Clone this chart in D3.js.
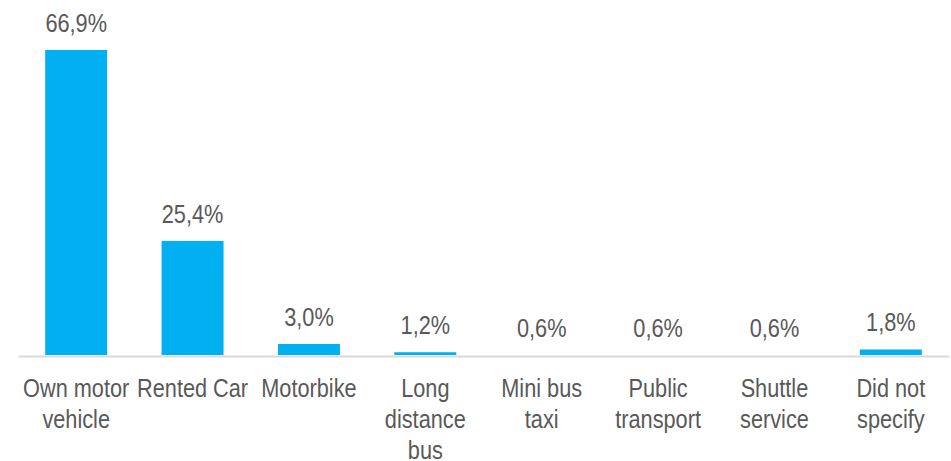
<!DOCTYPE html>
<html>
<head>
<meta charset="utf-8">
<script src="https://cdn.jsdelivr.net/npm/d3@7"></script>
<style>
  html, body { margin: 0; padding: 0; background: #ffffff; }
  svg { display: block; }
  text { font-family: "Liberation Sans Narrow", "Arial Narrow", "Liberation Sans", Arial, sans-serif; fill: #595959; }
</style>
</head>
<body>
<svg id="chart" width="951" height="461"></svg>
<script>
// Mode of transport used by respondents (share of responses, %)
const categories = [
  ["Own motor", "vehicle"],
  ["Rented Car"],
  ["Motorbike"],
  ["Long", "distance", "bus"],
  ["Mini bus", "taxi"],
  ["Public", "transport"],
  ["Shuttle", "service"],
  ["Did not", "specify"]
];
const shares = [66.9, 25.4, 3.0, 1.2, 0.6, 0.6, 0.6, 1.8];

const plot = { left: 18, right: 949, baseline: 355, top: 50 };
const fontSize = 26.5;
const narrow = 0.82;          // horizontal squeeze for a condensed look
const lineHeight = 31.5;

const svg = d3.select("#chart");

const x = d3.scaleBand()
  .domain(d3.range(categories.length))
  .range([plot.left, plot.right])
  .paddingInner(0.4675)
  .paddingOuter(0.4675 / 2);

// value axis starts at the smallest share
const y = d3.scaleLinear()
  .domain([d3.min(shares), d3.max(shares)])
  .range([plot.baseline, plot.top]);

const fmt = d3.formatLocale({ decimal: ",", thousands: ".", grouping: [3], currency: ["", ""] }).format(".1f");
const cx = i => x(i) + x.bandwidth() / 2;

// bars
svg.append("g")
  .selectAll("rect")
  .data(shares)
  .join("rect")
  .attr("x", (d, i) => x(i))
  .attr("width", x.bandwidth())
  .attr("y", d => y(d))
  .attr("height", d => y.range()[0] - y(d))
  .attr("fill", "#00B0F0");

// category axis line
const axis = d3.axisBottom(x).tickSize(0).tickFormat("");
const axisG = svg.append("g")
  .attr("transform", `translate(0,${plot.baseline + 1})`)
  .call(axis);
axisG.select(".domain").attr("stroke", "#d9d9d9").attr("stroke-width", 2);

// value labels
svg.append("g")
  .selectAll("text")
  .data(shares)
  .join("text")
  .attr("transform", (d, i) => `translate(${cx(i)},${y(d) - 18}) scale(${narrow},1)`)
  .attr("text-anchor", "middle")
  .attr("font-size", fontSize)
  .text(d => fmt(d) + "%");

// category labels
const labels = svg.append("g")
  .selectAll("text")
  .data(categories)
  .join("text")
  .attr("text-anchor", "middle")
  .attr("font-size", fontSize)
  .attr("transform", (d, i) => `translate(${cx(i)},${plot.baseline + 41.5}) scale(${narrow},1)`);

labels.selectAll("tspan")
  .data(d => d)
  .join("tspan")
  .attr("x", 0)
  .attr("y", (d, j) => j * lineHeight)
  .text(d => d);
</script>
</body>
</html>
